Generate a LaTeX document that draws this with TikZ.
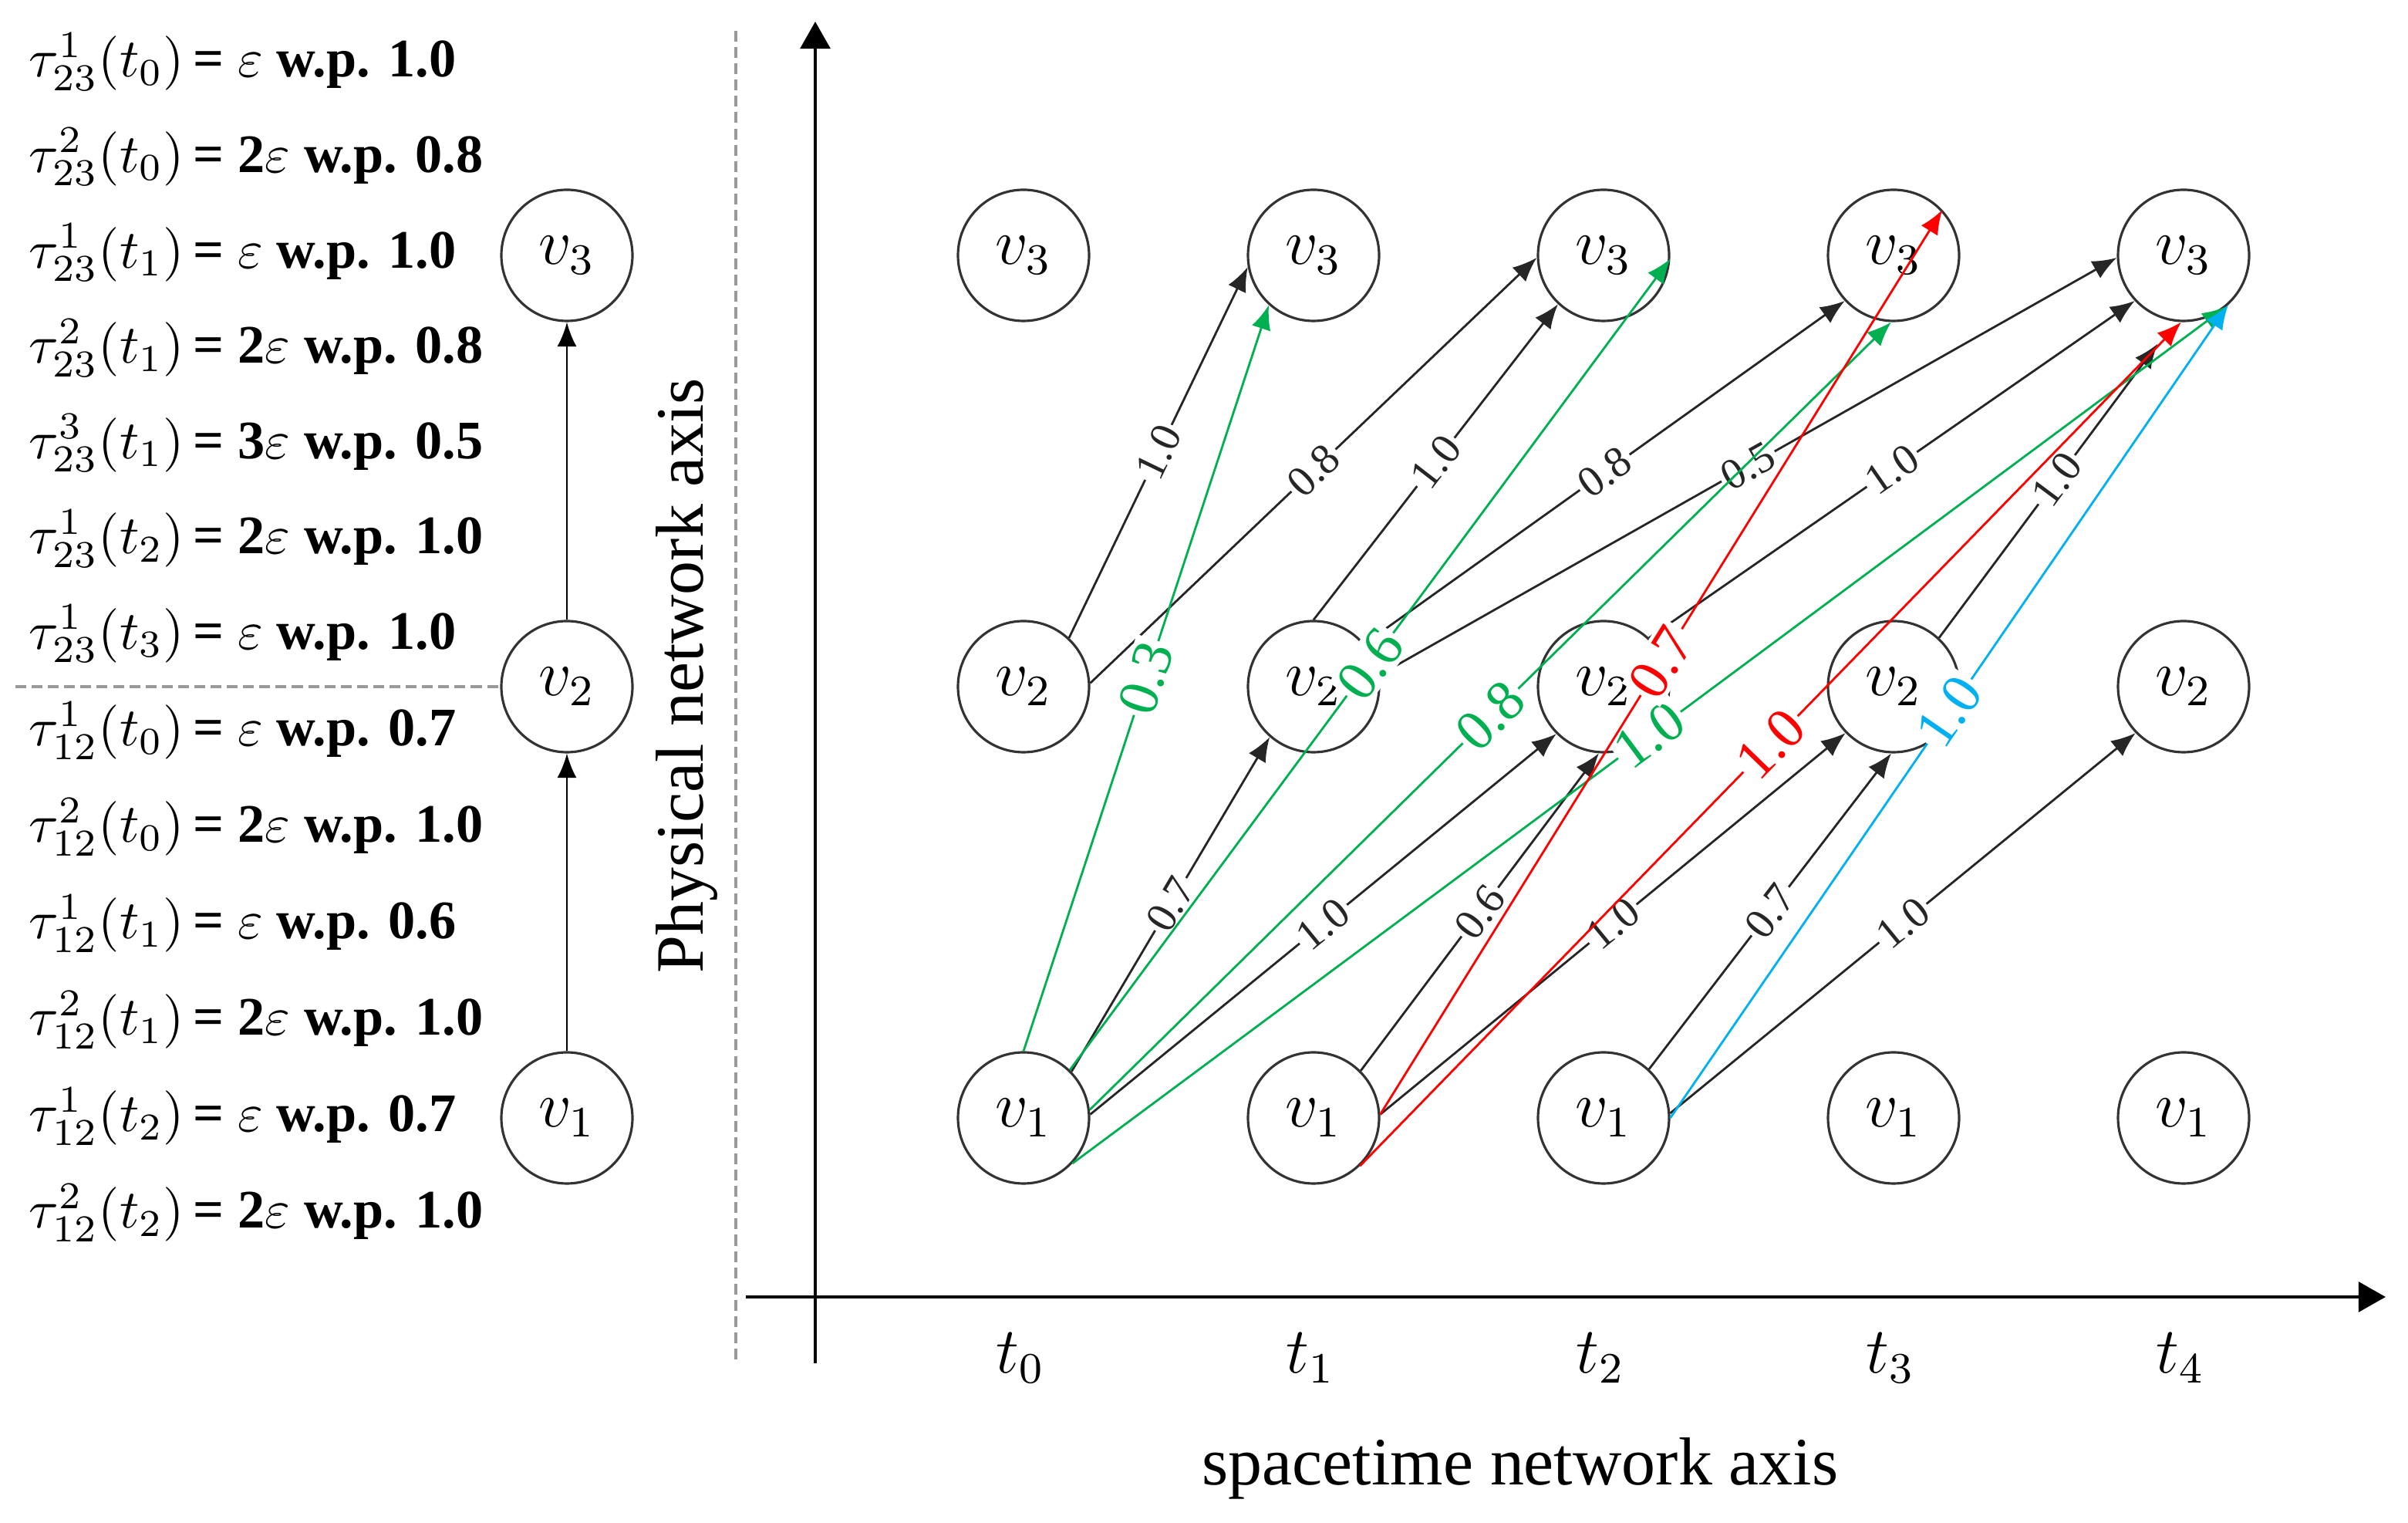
\documentclass[tikz,border=0pt]{standalone}
\usepackage{fontspec}
\setmainfont{Liberation Serif}
\usetikzlibrary{arrows.meta}
\definecolor{pgreen}{RGB}{0,176,80}
\definecolor{pred}{RGB}{255,0,0}
\definecolor{pblue}{RGB}{0,176,240}

\begin{document}
\begin{tikzpicture}[
    vert/.style={draw=black!80, circle, minimum size=0.85cm, inner sep=0pt, line width=0.45pt, font=\fontsize{12}{14}\selectfont},
    tr/.style={-{Latex[length=4.5pt,width=3.6pt]}, line width=0.4pt},
    lbl/.style={sloped, fill=white, inner sep=0.6pt, font=\fontsize{8}{9}\selectfont},
    clbl/.style={sloped, fill=white, inner sep=0.6pt, font=\fontsize{10.5}{12}\selectfont},
    sep/.style={draw=black!40, dash pattern=on 2pt off 1pt, line width=0.45pt},
    axis/.style={-{Triangle[length=5pt,width=5.5pt]}, line width=0.6pt},
    tau/.style={anchor=west, inner sep=0pt, font=\fontsize{10}{12}\selectfont},
    fullend/.style={},
    shortend/.style={shorten >=0.18cm}
]
\useasboundingbox (0,0) rectangle (15.61,9.87);

% physical network
\foreach \r/\y in {1/2.625, 2/5.42, 3/8.215}
    \node[vert] (p\r) at (3.675,\y) {$v_\r$};
\draw[tr] (p1) -- (p2);
\draw[tr] (p2) -- (p3);

% travel times
\foreach \s/\k/\m/\p [count=\i from 0] in {1/0//1.0, 2/0/2/0.8, 1/1//1.0, 2/1/2/0.8, 3/1/3/0.5, 1/2/2/1.0, 1/3//1.0}
    \node[tau] (a\i) at (0.18,9.47-0.618*\i) {$\tau^{\s}_{23}(t_{\k})$\,\textbf{= \m}$\varepsilon$ \textbf{w.p. \p}};
\foreach \s/\k/\m/\p [count=\i from 0] in {1/0//0.7, 2/0/2/1.0, 1/1//0.6, 2/1/2/1.0, 1/2//0.7, 2/2/2/1.0}
    \node[tau] (b\i) at (0.18,5.135-0.625*\i) {$\tau^{\s}_{12}(t_{\k})$\,\textbf{= \m}$\varepsilon$ \textbf{w.p. \p}};
\draw[sep] (0.1,5.42) -- (p2.west);
\draw[sep] (4.77,9.67) -- (4.77,1.05);

% axes
\coordinate (yb) at (5.285,1.035);
\coordinate (yt) at (5.285,9.73);
\coordinate (xl) at (4.835,1.465);
\coordinate (xr) at (15.465,1.465);
\draw[axis] (yb) -- (yt);
\draw[axis] (xl) -- (xr);
\node[rotate=90, font=\fontsize{12.5}{15}\selectfont] (ylab) at (4.45,5.49) {Physical network axis};
\node[font=\fontsize{12.5}{15}\selectfont] (xlab) at (9.855,0.355) {spacetime network axis};

% spacetime nodes
\foreach \k in {0,...,4}{
    \foreach \r/\y in {1/2.625, 2/5.42, 3/8.215}
        \node[vert] (v\r-\k) at (6.635+1.88*\k,\y) {$v_\r$};
    \node[font=\fontsize{12}{14}\selectfont] (t\k) at (6.615+1.88*\k,1.07) {$t_\k$};
}

% single hops
\foreach \a/\b/\c/\d/\p/\s in {
    v2-0/47/v3-1/190/1.0/fullend,
    v2-0/3/v3-2/182/0.8/fullend,
    v2-1/90/v3-2/227/1.0/fullend,
    v2-1/40/v3-3/223/0.8/fullend,
    v2-1/10/v3-4/182/0.5/fullend,
    v2-2/47/v3-4/223/1.0/fullend,
    v2-3/47/v3-4/262/1.0/shortend,
    v1-0/44/v2-1/229/0.7/fullend,
    v1-0/3/v2-2/225/1.0/fullend,
    v1-1/45/v2-2/266/0.6/fullend,
    v1-1/3/v2-3/224/1.0/fullend,
    v1-2/47/v2-3/268/0.7/fullend,
    v1-2/4/v2-4/224/1.0/fullend}
    \draw[tr, black!85, \s] (\a.\b) -- node[lbl] {\p} (\c.\d);

% two hops
\foreach \a/\b/\c/\d/\p/\col in {
    v1-0/90/v3-1/228/0.3/pgreen,
    v1-0/46/v3-2/357/0.6/pgreen,
    v1-0/7/v3-3/268/0.8/pgreen,
    v1-0/317/v3-4/310/1.0/pgreen,
    v1-1/3/v3-3/43/0.7/pred,
    v1-1/314/v3-4/268/1.0/pred,
    v1-2/0/v3-4/312/1.0/pblue}
    \draw[tr, \col] (\a.\b) -- node[clbl] {\p} (\c.\d);
\end{tikzpicture}
\end{document}
